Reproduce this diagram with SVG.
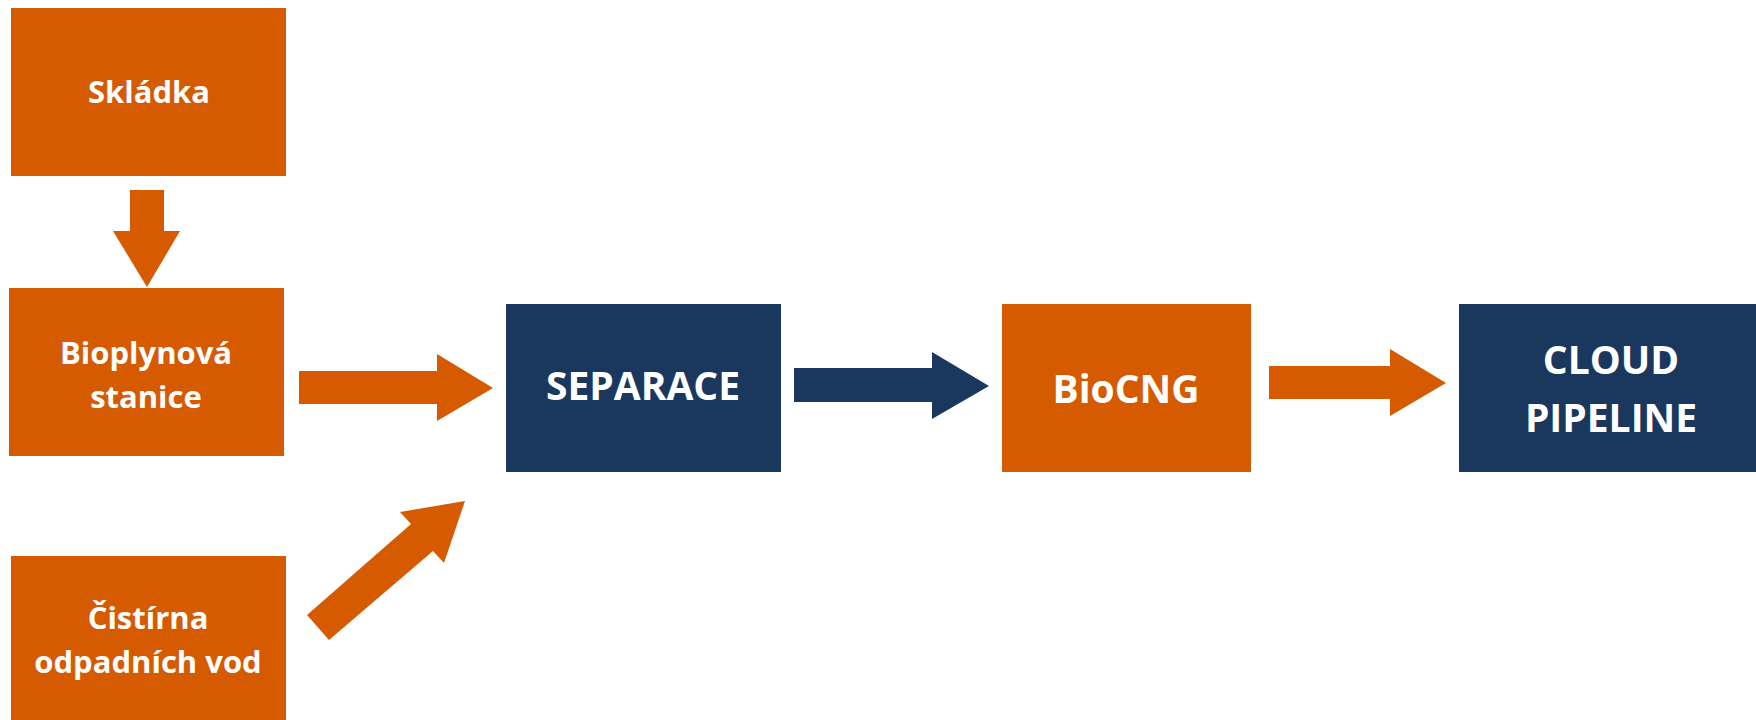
<svg xmlns="http://www.w3.org/2000/svg" width="1756" height="720" viewBox="0 0 1756 720">
<style>
.o{fill:#D55A00}
.n{fill:#1A375E}
.t{fill:#FFFFFF;font-family:"Open Sans","Noto Sans",sans-serif;font-weight:bold;text-anchor:middle}
.s{font-size:31px}
.b{font-size:39px}
</style>
<rect width="1756" height="720" fill="#FFFFFF"/>
<g id="connectors">
<polygon class="o" points="130,190 164,190 164,231 180,231 147,287 113,231 130,231"/>
<polygon class="o" points="299,371 437,371 437,354 493,388 437,421 437,404 299,404"/>
<polygon class="o" points="307,615 411,524 400,512 465,501 444,563 433,551 329,640"/>
<polygon class="n" points="794,368 932,368 932,352 989,386 932,419 932,402 794,402"/>
<polygon class="o" points="1269,366 1390,366 1390,349 1446,383 1390,416 1390,399 1269,399"/>
</g>
<g id="skladka">
<rect class="o" x="11" y="8" width="275" height="168"/>
<text class="t s" x="149" y="103">Skládka</text>
</g>
<g id="bioplynova">
<rect class="o" x="9" y="288" width="275" height="168"/>
<text class="t s" x="146" y="364">Bioplynová</text>
<text class="t s" x="146" y="408">stanice</text>
</g>
<g id="cistirna">
<rect class="o" x="11" y="556" width="275" height="168"/>
<text class="t s" x="148" y="629">Čistírna</text>
<text class="t s" x="148" y="673">odpadních vod</text>
</g>
<g id="separace">
<rect class="n" x="506" y="304" width="275" height="168"/>
<text class="t b" x="643" y="400">SEPARACE</text>
</g>
<g id="biocng">
<rect class="o" x="1002" y="304" width="249" height="168"/>
<text class="t b" x="1126" y="403">BioCNG</text>
</g>
<g id="cloud">
<rect class="n" x="1459" y="304" width="305" height="168"/>
<text class="t b" x="1611" y="374">CLOUD</text>
<text class="t b" x="1611" y="432">PIPELINE</text>
</g>
</svg>
